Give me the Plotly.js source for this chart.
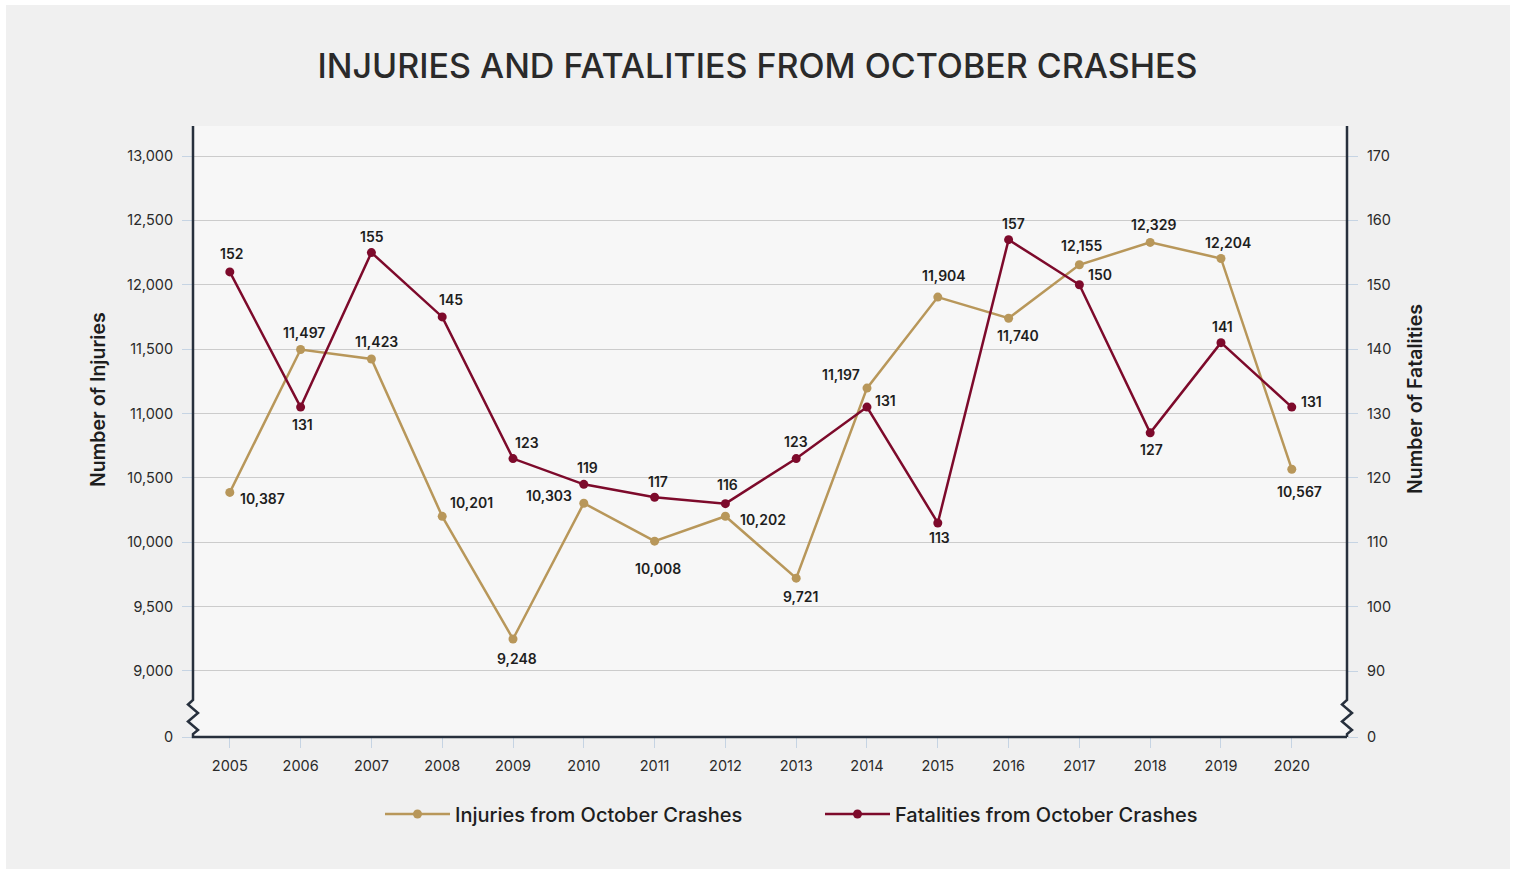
<!DOCTYPE html>
<html>
<head>
<meta charset="utf-8">
<script src="https://cdn.plot.ly/plotly-3.0.1.min.js"></script>
<style>
  html, body { margin: 0; padding: 0; background: #ffffff; }
  #chart { width: 1515px; height: 869px; }
</style>
</head>
<body>
<div id="chart"></div>
<script>
// ---------------- DATA ----------------
const years = [2005, 2006, 2007, 2008, 2009, 2010, 2011, 2012, 2013, 2014, 2015, 2016, 2017, 2018, 2019, 2020];
const injuries = [10387, 11497, 11423, 10201, 9248, 10303, 10008, 10202, 9721, 11197, 11904, 11740, 12155, 12329, 12204, 10567];
const fatalities = [152, 131, 155, 145, 123, 119, 117, 116, 123, 131, 113, 157, 150, 127, 141, 131];

const injuryTickValues = [9000, 9500, 10000, 10500, 11000, 11500, 12000, 12500, 13000];
const fatalityTickValues = [90, 100, 110, 120, 130, 140, 150, 160, 170];
const seriesNames = ['Injuries from October Crashes', 'Fatalities from October Crashes'];
const chartTitle = 'INJURIES AND FATALITIES FROM OCTOBER CRASHES';
const leftAxisTitle = 'Number of Injuries';
const rightAxisTitle = 'Number of Fatalities';

// ---------------- STYLE / LAYOUT ----------------
const GOLD = '#b8975a';
const MAROON = '#7d0a2b';
const AXIS = '#27303d';
const TICK = '#c6d4e3';
const FONT = 'Inter, "Open Sans", sans-serif';

// broken axis: bottom of each axis is labelled "0"
const injuryBottom = 8487, injuryTop = 13233;
const fatalityBottom = 79.75, fatalityTop = 174.66;

// label offsets in px [dx, dy(down)]
const injuryLabelOffsets = [[33,6],[3,-17],[5,-18],[29,-14],[4,19],[-35,-8],[3,27],[38,3],[4,18],[-26,-14],[6,-22],[9,17],[3,-19],[3,-18],[7,-16],[8,22]];
const fatalityLabelOffsets = [[2,-18],[2,17],[1,-16],[9,-17],[14,-16],[4,-17],[3,-16],[2,-19],[0,-17],[19,-7],[2,15],[5,-16],[21,-10],[1,17],[2,-16],[20,-6]];

const L = 193, R = 1347, T = 126, B = 737, W = 1515, H = 869;
const px2x = p => (p - L) / (R - L);
const px2y = p => (B - p) / (B - T);

const fmt = v => v.toLocaleString('en-US');

const traces = [
  {
    x: years, y: injuries, name: seriesNames[0], type: 'scatter', mode: 'lines+markers',
    line: { color: GOLD, width: 2.5 }, marker: { color: GOLD, size: 9 }, yaxis: 'y', cliponaxis: false,
    hoverinfo: 'x+y'
  },
  {
    x: years, y: fatalities, name: seriesNames[1], type: 'scatter', mode: 'lines+markers',
    line: { color: MAROON, width: 2.5 }, marker: { color: MAROON, size: 9 }, yaxis: 'y2', cliponaxis: false,
    hoverinfo: 'x+y'
  }
];

const labelFont = { family: FONT, size: 14, color: '#1e1e1e', weight: 600 };
const annotations = [];
years.forEach((yr, i) => {
  annotations.push({
    x: yr, y: injuries[i], xref: 'x', yref: 'y', text: fmt(injuries[i]), showarrow: false,
    xanchor: 'center', yanchor: 'middle',
    xshift: injuryLabelOffsets[i][0], yshift: -injuryLabelOffsets[i][1], font: labelFont
  });
  annotations.push({
    x: yr, y: fatalities[i], xref: 'x', yref: 'y2', text: fmt(fatalities[i]), showarrow: false,
    xanchor: 'center', yanchor: 'middle',
    xshift: fatalityLabelOffsets[i][0], yshift: -fatalityLabelOffsets[i][1], font: labelFont
  });
});
const axisTitleFont = { family: FONT, size: 19.5, color: '#1e1e1e', weight: 600 };
annotations.push({
  xref: 'paper', yref: 'paper', x: px2x(98), y: px2y(400), xanchor: 'center', yanchor: 'middle',
  text: leftAxisTitle, textangle: -90, showarrow: false, font: axisTitleFont
});
annotations.push({
  xref: 'paper', yref: 'paper', x: px2x(1415), y: px2y(399), xanchor: 'center', yanchor: 'middle',
  text: rightAxisTitle, textangle: -90, showarrow: false, font: axisTitleFont
});

// zigzag axis-break paths (pixel coordinates converted to paper)
function path(pts) {
  return pts.map((p, i) => (i ? 'L' : 'M') + px2x(p[0]).toFixed(5) + ',' + px2y(p[1]).toFixed(5)).join(' ');
}
const leftAxisPts = [[193,T],[193,700],[188,704.5],[198,713],[188,721.5],[198,730],[193,734],[193,B],[R,B]];
const rightAxisPts = [[R,T],[R,700],[1342,704.5],[1352,713],[1342,721.5],[1352,730],[R,734],[R,B]];

const shapes = [
  // white frame
  { type: 'rect', xref: 'paper', yref: 'paper', x0: px2x(0), x1: px2x(6), y0: px2y(H), y1: px2y(0), fillcolor: '#ffffff', line: { width: 0 }, layer: 'below' },
  { type: 'rect', xref: 'paper', yref: 'paper', x0: px2x(0), x1: px2x(W), y0: px2y(5), y1: px2y(0), fillcolor: '#ffffff', line: { width: 0 }, layer: 'below' },
  { type: 'rect', xref: 'paper', yref: 'paper', x0: px2x(1510), x1: px2x(W), y0: px2y(H), y1: px2y(0), fillcolor: '#ffffff', line: { width: 0 }, layer: 'below' },
  { type: 'path', xref: 'paper', yref: 'paper', path: path(leftAxisPts), line: { color: AXIS, width: 2.5 }, layer: 'above' },
  { type: 'path', xref: 'paper', yref: 'paper', path: path(rightAxisPts), line: { color: AXIS, width: 2.5 }, layer: 'above' }
];

const tickFont = { family: FONT, size: 14.5, color: '#2a2a2a' };

const layout = {
  width: W, height: H,
  margin: { l: L, r: W - R, t: T, b: H - B, pad: 0 },
  paper_bgcolor: '#f0f0f0',
  plot_bgcolor: '#f7f7f7',
  showlegend: true,
  title: {
    text: chartTitle, x: 0.5, xref: 'container', xanchor: 'center', y: 1 - 66 / H, yref: 'container', yanchor: 'middle',
    font: { family: FONT, size: 34, color: '#2a2a2a', weight: 500 }
  },
  xaxis: {
    range: [2004.48, 2020.78], tickvals: years, ticktext: years.map(String),
    ticks: 'outside', ticklen: 10, tickwidth: 1, tickcolor: TICK, ticklabelstandoff: 6,
    showgrid: false, zeroline: false, showline: false, tickfont: tickFont, fixedrange: true
  },
  yaxis: {
    range: [injuryBottom, injuryTop],
    tickvals: [injuryBottom].concat(injuryTickValues),
    ticktext: ['0'].concat(injuryTickValues.map(fmt)),
    ticks: 'outside', ticklen: 10, tickwidth: 1, tickcolor: TICK, ticklabelstandoff: 6,
    showgrid: true, gridcolor: '#cccccc', gridwidth: 1, zeroline: false, showline: false,
    tickfont: tickFont, fixedrange: true
  },
  yaxis2: {
    range: [fatalityBottom, fatalityTop], overlaying: 'y', side: 'right',
    tickvals: [fatalityBottom].concat(fatalityTickValues),
    ticktext: ['0'].concat(fatalityTickValues.map(String)),
    ticks: 'outside', ticklen: 10, tickwidth: 1, tickcolor: TICK, ticklabelstandoff: 6,
    showgrid: false, zeroline: false, showline: false, tickfont: tickFont, fixedrange: true
  },
  legend: {
    orientation: 'h', x: px2x(380), xanchor: 'left', y: px2y(814), yanchor: 'middle',
    font: { family: FONT, size: 20, color: '#1e1e1e', weight: 500 },
    bgcolor: 'rgba(0,0,0,0)', itemwidth: 65, entrywidth: 360, entrywidthmode: 'pixels', traceorder: 'normal'
  },
  annotations: annotations,
  shapes: shapes,
  hovermode: 'closest'
};

Plotly.newPlot('chart', traces, layout, { displayModeBar: false });
</script>
</body>
</html>
